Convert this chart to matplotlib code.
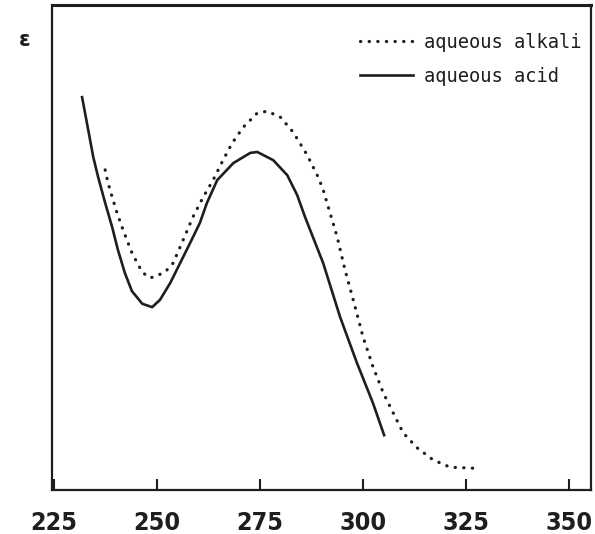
import matplotlib
matplotlib.use("Agg")
import matplotlib.pyplot as plt

# Wavelength (nm) vs relative absorbance
acid_x = [231.8, 233.3, 234.5, 235.7, 237.4, 239.1, 240.5, 242.2, 243.9, 246.4,
          248.8, 250.7, 253.2, 255.6, 258.0, 260.4, 262.1, 264.6, 268.5, 272.6,
          274.3, 278.2, 281.6, 284.0, 285.9, 290.3, 294.4, 298.5, 302.4, 305.1]
acid_y = [0.810, 0.742, 0.687, 0.645, 0.592, 0.542, 0.495, 0.447, 0.410, 0.384,
          0.377, 0.392, 0.427, 0.468, 0.509, 0.551, 0.592, 0.639, 0.674, 0.695,
          0.697, 0.680, 0.649, 0.608, 0.563, 0.468, 0.357, 0.262, 0.179, 0.113]

alkali_x = [237.4, 238.1, 239.1, 240.3, 241.5, 242.7, 243.9, 245.2, 246.4, 248.3,
            250.2, 251.9, 253.9, 256.3, 258.7, 261.2, 263.6, 266.0, 268.2, 270.9,
            274.3, 276.7, 279.9, 283.0, 286.4, 289.1, 290.3, 293.7, 295.6, 297.6,
            300.0, 302.4, 304.9, 307.3, 309.7, 313.1, 317.0, 321.1, 326.7]
alkali_y = [0.660, 0.633, 0.604, 0.571, 0.542, 0.515, 0.489, 0.468, 0.449, 0.437,
            0.443, 0.449, 0.468, 0.515, 0.563, 0.604, 0.639, 0.680, 0.715, 0.748,
            0.777, 0.781, 0.769, 0.738, 0.691, 0.645, 0.619, 0.522, 0.454, 0.392,
            0.315, 0.254, 0.200, 0.159, 0.118, 0.087, 0.062, 0.047, 0.045]

xticks = [225, 250, 275, 300, 325, 350]
xtick_labels = ["225", "250", "275", "300", "325", "350"]
legend_labels = ["aqueous alkali", "aqueous acid"]
ylabel = "ε"

ink = "#1e1e1e"
fig = plt.figure(figsize=(5.95, 5.34), dpi=100)
ax = fig.add_axes([52/595, 44/534, 539/595, 485/534])

ax.plot(alkali_x, alkali_y, color=ink, linewidth=2.3, linestyle=(0, (0.1, 2.6)),
        dash_capstyle="round", solid_joinstyle="round", label=legend_labels[0])
ax.plot(acid_x, acid_y, color=ink, linewidth=1.9, solid_joinstyle="round",
        label=legend_labels[1])

ax.set_xlim(224.5, 355.3)
ax.set_ylim(0, 1)
ax.set_xticks(xticks)
ax.set_xticklabels(xtick_labels, family="DejaVu Sans", fontstretch="condensed",
                   fontweight="bold", fontsize=18, color=ink)
ax.tick_params(axis="x", direction="in", length=8, width=1.5, pad=15, color=ink,
               top=False)
ax.set_yticks([])
for s in ax.spines.values():
    s.set_linewidth(1.6)
    s.set_color(ink)
ax.spines["top"].set_linewidth(2.2)

leg = ax.legend(loc="upper right", bbox_to_anchor=(1.0, 0.962), frameon=False,
                prop={"family": "DejaVu Sans Mono", "size": 13.5},
                handlelength=2.8, handletextpad=0.6, labelspacing=0.8, borderpad=0)
for t in leg.get_texts():
    t.set_color(ink)

fig.text(25/595, 1 - 40/534, ylabel, fontsize=15, fontweight="bold", color=ink,
         ha="center", va="center")

fig.savefig("out.png", dpi=100)
